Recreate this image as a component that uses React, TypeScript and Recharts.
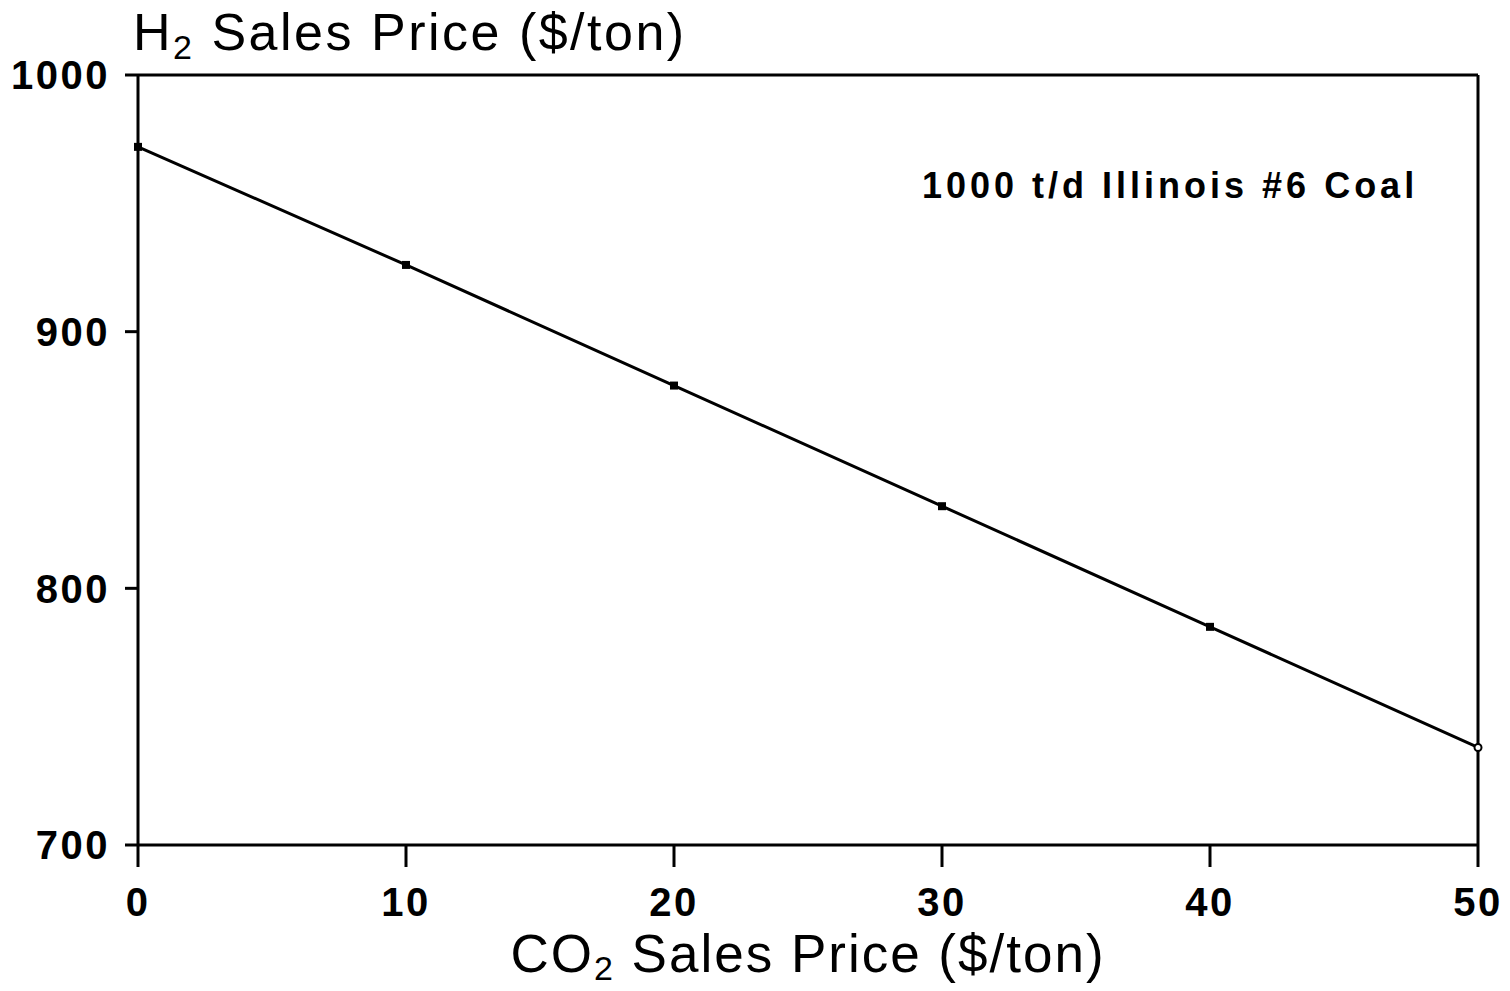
import { LineChart, Line, XAxis, YAxis, ReferenceLine } from "recharts";

const co2Price = [0, 10, 20, 30, 40, 50];
const h2Price = [972, 926, 879, 832, 785, 738];
const xTicks = [0, 10, 20, 30, 40, 50];
const yTicks = [700, 800, 900, 1000];

const data = co2Price.map((x, i) => ({ x, y: h2Price[i] }));

const FONT = "'Liberation Sans', Arial, Helvetica, sans-serif";
const tickStyle = { fill: "#000", fontSize: 40, fontWeight: 700, fontFamily: FONT, letterSpacing: 2.5 };

function PointDot(props: any) {
  const { cx, cy, index } = props;
  if (cx == null || cy == null) return null;
  if (index === data.length - 1) {
    return <circle cx={cx} cy={cy} r={3.5} fill="#fff" stroke="#000" strokeWidth={2} />;
  }
  return <rect x={cx - 4} y={cy - 4} width={8} height={8} fill="#000" />;
}

export default function App() {
  return (
    <div style={{ position: "absolute", left: 0, top: 0, background: "#fff" }}>
      <LineChart
        width={1510}
        height={991}
        data={data}
        margin={{ top: 75, right: 32, left: 0, bottom: 0 }}
      >
        <XAxis
          dataKey="x"
          type="number"
          domain={[0, 50]}
          ticks={xTicks}
          height={146}
          tickSize={22}
          tickMargin={21}
          tick={tickStyle}
          axisLine={{ stroke: "#000", strokeWidth: 3 }}
          tickLine={{ stroke: "#000", strokeWidth: 3 }}
          label={{
            content: () => (
              <text x={808} y={972} textAnchor="middle" fontSize={53} letterSpacing={2} fontFamily={FONT} fill="#000">
                CO
                <tspan fontSize={34} dy={8}>2</tspan>
                <tspan dy={-8}> Sales Price ($/ton)</tspan>
              </text>
            ),
          }}
        />
        <YAxis
          type="number"
          domain={[700, 1000]}
          ticks={yTicks}
          width={138}
          tickSize={13}
          tickMargin={15}
          tick={tickStyle}
          axisLine={{ stroke: "#000", strokeWidth: 3 }}
          tickLine={{ stroke: "#000", strokeWidth: 3 }}
          label={{
            content: () => (
              <text x={133} y={50} fontSize={52} letterSpacing={2.5} fontFamily={FONT} fill="#000">
                H
                <tspan fontSize={34} dy={9}>2</tspan>
                <tspan dy={-9}> Sales Price ($/ton)</tspan>
              </text>
            ),
          }}
        />
        <ReferenceLine
          y={1000}
          stroke="#000"
          strokeWidth={3}
          label={{
            content: () => (
              <text x={922} y={198} fontSize={36} fontWeight={700} letterSpacing={4} fontFamily={FONT} fill="#000">
                1000 t/d Illinois #6 Coal
              </text>
            ),
          }}
        />
        <ReferenceLine x={50} stroke="#000" strokeWidth={3} />
        <Line
          dataKey="y"
          type="linear"
          stroke="#000"
          strokeWidth={3}
          dot={<PointDot />}
          activeDot={false}
          isAnimationActive={false}
        />
      </LineChart>
    </div>
  );
}
